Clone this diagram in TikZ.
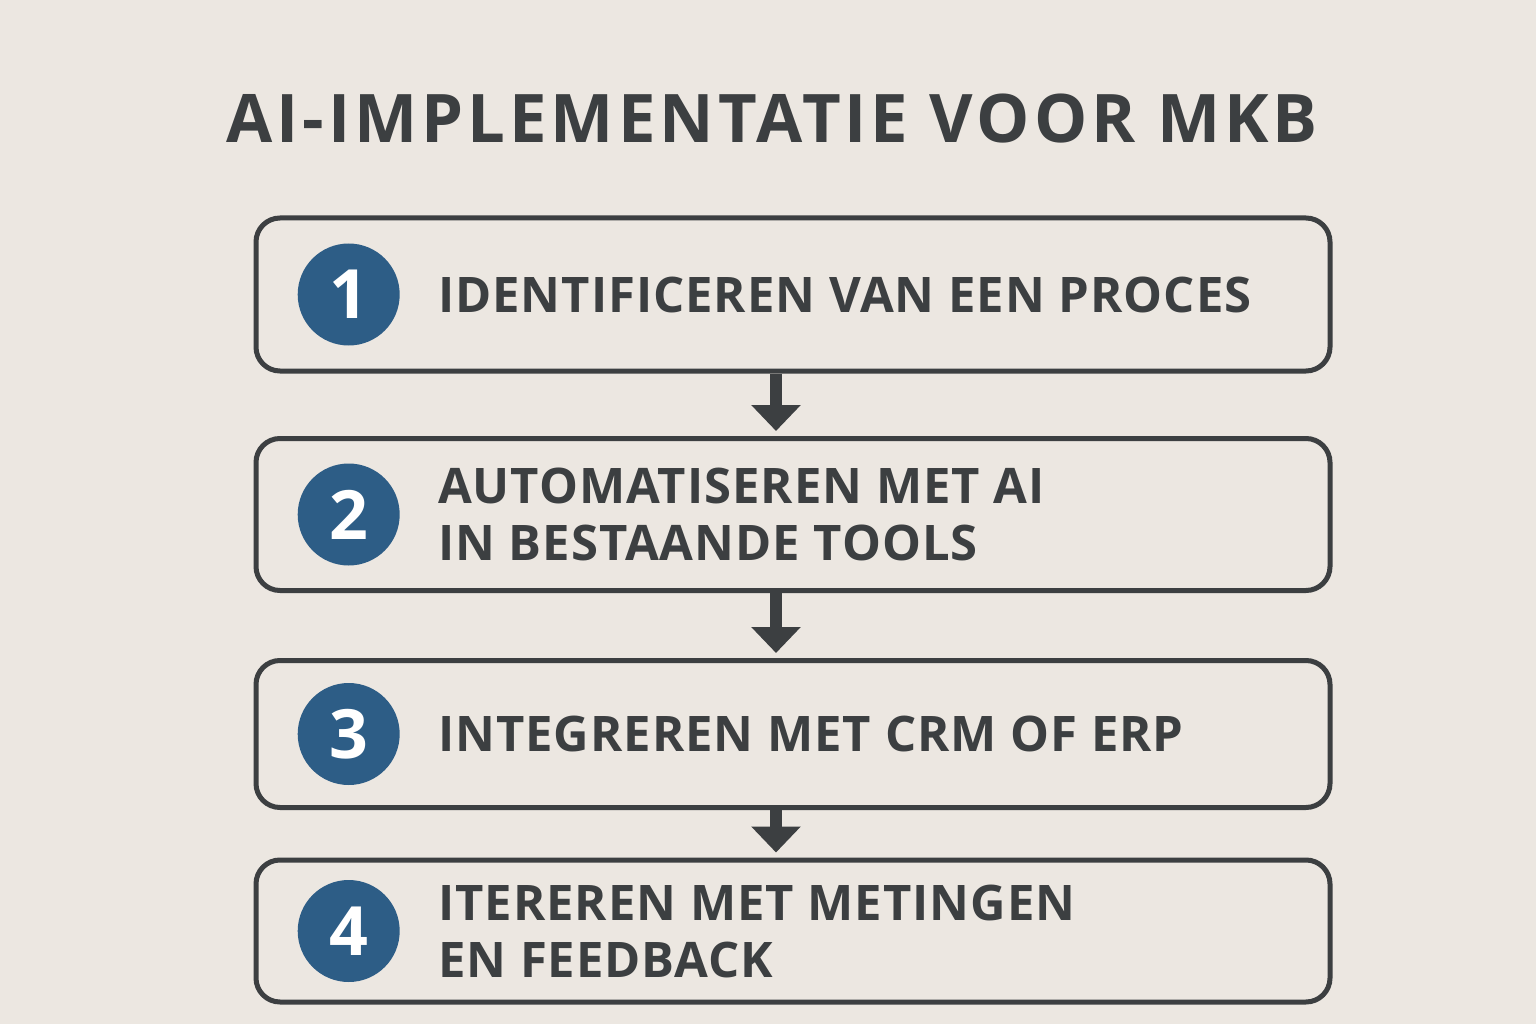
\documentclass[tikz,border=0pt]{standalone}
\usepackage{fontspec}
\setmainfont{Open Sans}
\newfontfamily\headfont[LetterSpace=6]{Open Sans}
\newfontfamily\stepfont[LetterSpace=2]{Open Sans}
\usetikzlibrary{arrows.meta}
\usetikzlibrary{positioning}
\definecolor{paper}{HTML}{ECE7E1}
\definecolor{ink}{HTML}{3C3F41}
\definecolor{dotblue}{HTML}{2D5D86}

\begin{document}
\begin{tikzpicture}[x=1pt,y=-1pt,
	stepbox/.style={draw=ink, line width=5pt, rounded corners=24pt, minimum width=1074pt, inner sep=0pt},
	numdot/.style={circle, fill=dotblue, text=white, minimum size=102pt, inner sep=0pt, font=\fontsize{68}{68}\selectfont\bfseries},
	steptext/.style={align=left, text=ink, inner sep=0pt, font=\stepfont\fontsize{49}{57}\selectfont\bfseries},
	flow/.style={draw=ink, line width=12pt, -{Triangle[width=48pt,length=26pt]}, shorten >=5pt}]
		\fill[paper] (0,0) rectangle (1536,1024);
		\node[text=ink, font=\headfont\fontsize{67}{67}\selectfont\bfseries] (title) at (772,119) {AI-IMPLEMENTATIE VOOR MKB};
		\node[stepbox, minimum height=153pt] (b1) at (793,294.5) {};
		\node[stepbox, minimum height=152pt] (b2) at (793,514.5) {};
		\node[stepbox, minimum height=147pt] (b3) at (793,734) {};
		\node[stepbox, minimum height=142pt] (b4) at (793,931) {};
		\node[numdot, right=44pt of b1.west] (n1) {1};
		\node[numdot, right=44pt of b2.west] (n2) {2};
		\node[numdot, right=44pt of b3.west] (n3) {3};
		\node[numdot, right=44pt of b4.west] (n4) {4};
		\node[steptext, right=38pt of n1] (t1) {IDENTIFICEREN VAN EEN PROCES};
		\node[steptext, right=38pt of n2] (t2) {AUTOMATISEREN MET AI\\IN BESTAANDE TOOLS};
		\node[steptext, right=38pt of n3] (t3) {INTEGREREN MET CRM OF ERP};
		\node[steptext, right=38pt of n4] (t4) {ITEREREN MET METINGEN\\EN FEEDBACK};
		\draw[flow] ([xshift=-17pt]b1.south) -- ([xshift=-17pt]b2.north);
		\draw[flow] ([xshift=-17pt]b2.south) -- ([xshift=-17pt]b3.north);
		\draw[flow] ([xshift=-17pt]b3.south) -- ([xshift=-17pt]b4.north);
\end{tikzpicture}
\end{document}
